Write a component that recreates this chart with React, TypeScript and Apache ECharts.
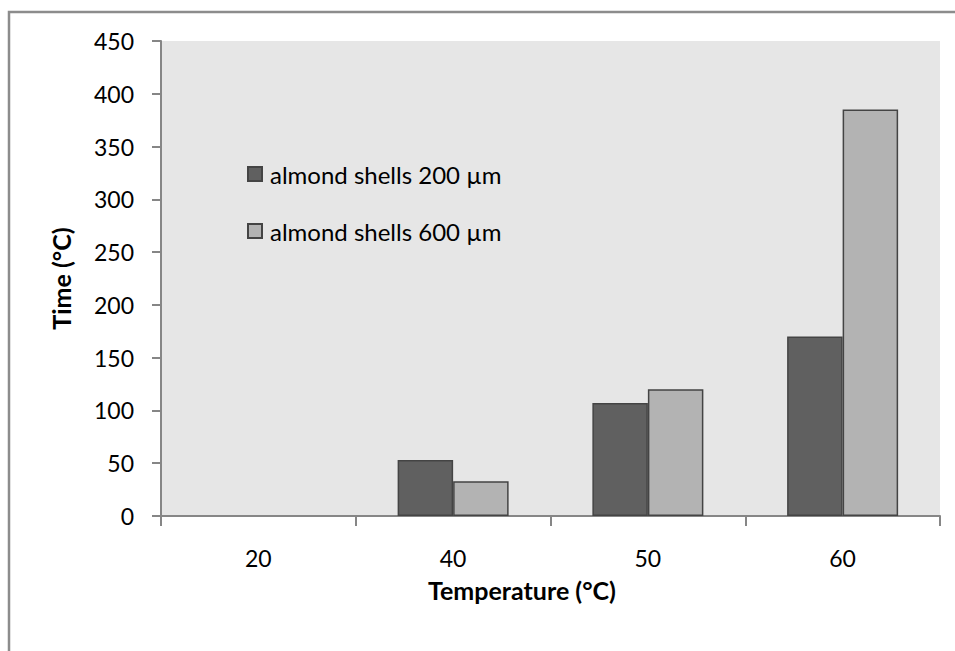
import React, { useEffect, useRef } from "react";
import * as echarts from "echarts";

const categories = ["20", "40", "50", "60"];
const series200 = [null, 53, 107, 170];
const series600 = [null, 33, 120, 385];
const seriesNames = ["almond shells 200 \u00b5m", "almond shells 600 \u00b5m"];
const yTicks = { min: 0, max: 450, interval: 50 };

const FONT = "Lato";

export default function App() {
  const ref = useRef<HTMLDivElement>(null);
  useEffect(() => {
    if (!ref.current) return;
    const chart = echarts.init(ref.current, undefined, { renderer: "svg" });
    chart.setOption({
      animation: false,
      textStyle: { fontFamily: FONT },
      grid: {
        left: 161,
        top: 41,
        right: 15,
        bottom: 135,
        show: true,
        backgroundColor: "#e6e6e6",
        borderWidth: 0,
        containLabel: false,
      },
      legend: {
        orient: "vertical",
        left: 247,
        top: 162,
        padding: 0,
        itemWidth: 14,
        itemHeight: 14,
        itemGap: 33,
        icon: "rect",
        data: seriesNames,
        textStyle: {
          fontFamily: FONT,
          fontSize: 24,
          color: "#000",
          lineHeight: 24,
          padding: [0, 0, 0, 3],
        },
      },
      xAxis: {
        type: "category",
        data: categories,
        axisLine: { lineStyle: { color: "#868686", width: 2 } },
        axisTick: { show: true, alignWithLabel: false, length: 10, lineStyle: { color: "#868686", width: 2 } },
        axisLabel: { color: "#000", fontSize: 23, margin: 30, fontFamily: FONT },
        splitLine: { show: false },
      },
      yAxis: {
        type: "value",
        min: yTicks.min,
        max: yTicks.max,
        interval: yTicks.interval,
        name: "Time (\u00b0C)",
        nameLocation: "middle",
        nameGap: 88,
        nameRotate: 90,
        nameTextStyle: { fontFamily: FONT, fontSize: 25, fontWeight: "bold", color: "#000" },
        axisLine: { show: true, lineStyle: { color: "#868686", width: 2 } },
        axisTick: { show: true, length: 9, lineStyle: { color: "#868686", width: 2 } },
        axisLabel: { color: "#000", fontSize: 23, margin: 27, fontFamily: FONT },
        splitLine: { show: false },
      },
      series: [
        {
          name: seriesNames[0],
          type: "bar",
          data: series200,
          barGap: "0%",
          barCategoryGap: "43%",
          itemStyle: { color: "#606060", borderColor: "#444", borderWidth: 1.5 },
        },
        {
          name: seriesNames[1],
          type: "bar",
          data: series600,
          barGap: "0%",
          barCategoryGap: "43%",
          itemStyle: { color: "#b3b3b3", borderColor: "#444", borderWidth: 1.5 },
        },
      ],
      graphic: [
        {
          type: "rect",
          shape: { x: 9, y: 12, width: 1000, height: 700 },
          style: { fill: "none", stroke: "#8c8c8c", lineWidth: 2.5 },
          silent: true,
        },
        {
          type: "text",
          x: 522,
          y: 590,
          style: {
            text: "Temperature (\u00b0C)",
            fontFamily: FONT,
            fontSize: 25,
            fontWeight: "bold",
            fill: "#000",
            align: "center",
            verticalAlign: "middle",
          },
        },
      ],
    });
    return () => chart.dispose();
  }, []);
  return (
    <div
      ref={ref}
      style={{ position: "fixed", left: 0, top: 0, width: 955, height: 651, background: "#fff" }}
    />
  );
}
